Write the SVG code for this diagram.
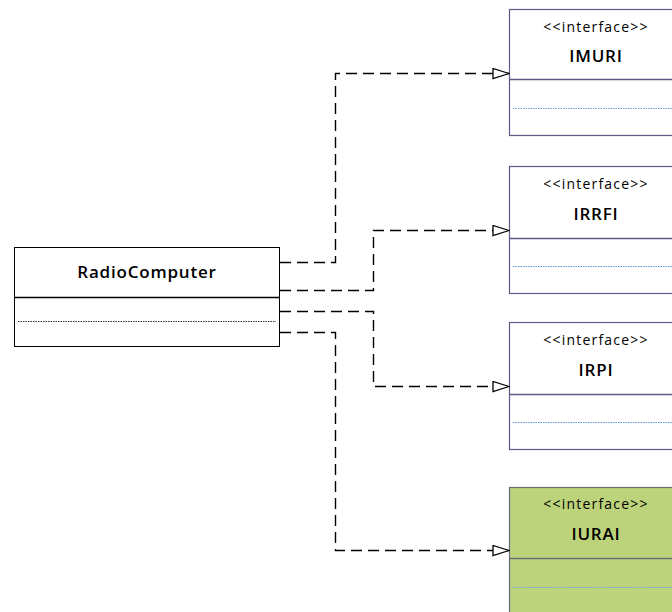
<svg xmlns="http://www.w3.org/2000/svg" width="672" height="612" viewBox="0 0 672 612">
  <style>
    .box { fill: #ffffff; stroke: #000000; stroke-width: 1; }
    .ibox { fill: #ffffff; stroke: #5f5a85; stroke-width: 1.2; }
    .ibox.green { fill: #bcd37b; stroke: #6b6b78; }
    .div { stroke: #000000; stroke-width: 1.5; }
    .idiv { stroke: #5f5a85; stroke-width: 1.5; }
    .green .idiv { stroke: #6b6b78; }
    .dot { stroke: #000000; stroke-width: 0.8; stroke-dasharray: 1.5,1; }
    .idot { stroke: #5b9bd5; stroke-width: 1; stroke-dasharray: 1.5,1; }
    .green .idot { stroke: #6aa7d8; }
    .title { font-family: "Open Sans", "Noto Sans", sans-serif; font-weight: 600; font-size: 17px; letter-spacing: 0.8px; fill: #000; text-anchor: middle; }
    .stereo { font-family: "Open Sans", "Noto Sans", sans-serif; font-size: 14px; letter-spacing: 1.2px; fill: #000; text-anchor: middle; }
    .conn { fill: none; stroke: #000000; stroke-width: 1.4; stroke-dasharray: 11,6; }
  </style>
  <defs>
    <marker id="realize" markerWidth="18" markerHeight="12" refX="17" refY="6" orient="auto" markerUnits="userSpaceOnUse">
      <path d="M1,1 L17,6 L1,11 Z" fill="#ffffff" stroke="#000000" stroke-width="1.3" stroke-dasharray="none"/>
    </marker>
  </defs>

  <g id="RadioComputer">
    <rect class="box" x="14.5" y="247.5" width="265" height="99"/>
    <line class="div" x1="14.5" y1="297.5" x2="279.5" y2="297.5"/>
    <line class="dot" x1="18" y1="321.5" x2="276" y2="321.5"/>
    <text class="title" x="147" y="278">RadioComputer</text>
  </g>

  <g id="IMURI">
    <rect class="ibox" x="509.5" y="9.5" width="180" height="126"/>
    <line class="idiv" x1="509.5" y1="79.5" x2="690" y2="79.5"/>
    <line class="idot" x1="513" y1="108.5" x2="690" y2="108.5"/>
    <text class="stereo" x="596" y="32">&lt;&lt;interface&gt;&gt;</text>
    <text class="title" x="596" y="62">IMURI</text>
  </g>

  <g id="IRRFI">
    <rect class="ibox" x="509.5" y="166.5" width="180" height="127"/>
    <line class="idiv" x1="509.5" y1="238.5" x2="690" y2="238.5"/>
    <line class="idot" x1="513" y1="266.5" x2="690" y2="266.5"/>
    <text class="stereo" x="596" y="189">&lt;&lt;interface&gt;&gt;</text>
    <text class="title" x="596" y="220">IRRFI</text>
  </g>

  <g id="IRPI">
    <rect class="ibox" x="509.5" y="322.5" width="180" height="127"/>
    <line class="idiv" x1="509.5" y1="394.5" x2="690" y2="394.5"/>
    <line class="idot" x1="513" y1="422.5" x2="690" y2="422.5"/>
    <text class="stereo" x="596" y="345">&lt;&lt;interface&gt;&gt;</text>
    <text class="title" x="596" y="376">IRPI</text>
  </g>

  <g id="IURAI" class="green">
    <rect class="ibox green" x="509.5" y="487.5" width="180" height="140"/>
    <line class="idiv" x1="509.5" y1="558.5" x2="690" y2="558.5"/>
    <line class="idot" x1="513" y1="587.5" x2="690" y2="587.5"/>
    <text class="stereo" x="596" y="509">&lt;&lt;interface&gt;&gt;</text>
    <text class="title" x="596" y="540">IURAI</text>
  </g>

  <g id="connectors">
    <path class="conn" d="M280,262.5 H335.5 V73.5 H509" marker-end="url(#realize)"/>
    <path class="conn" d="M280,290.5 H373.5 V230.5 H509" marker-end="url(#realize)"/>
    <path class="conn" d="M280,311.5 H373.5 V386.5 H509" marker-end="url(#realize)"/>
    <path class="conn" d="M280,332.5 H335.5 V550.5 H509" marker-end="url(#realize)"/>
  </g>
</svg>
